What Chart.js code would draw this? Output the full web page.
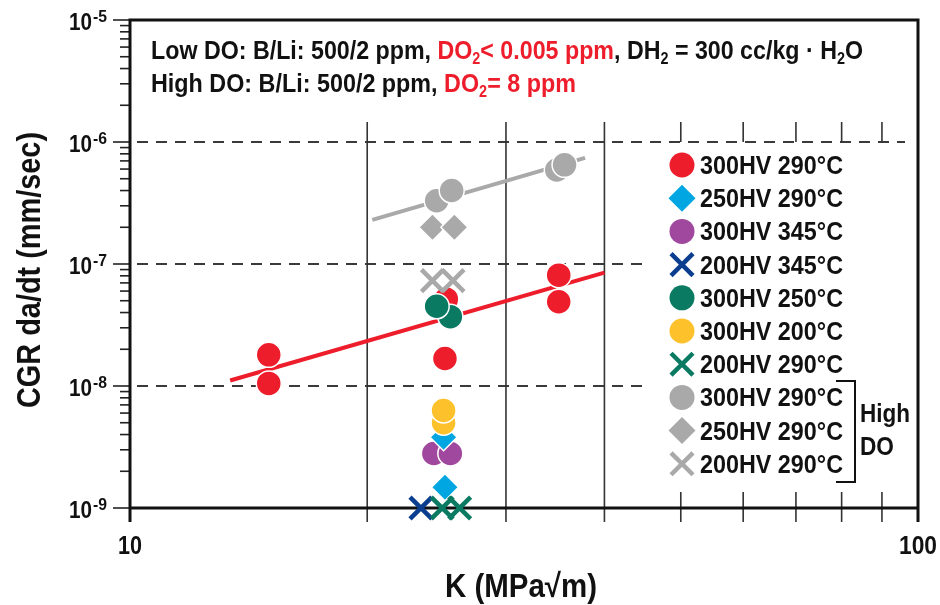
<!DOCTYPE html>
<html>
<head>
<meta charset="utf-8">
<title>CGR vs K</title>
<script src="https://cdn.jsdelivr.net/npm/chart.js@4.4.1/dist/chart.umd.min.js"></script>
<style>
  html, body { margin: 0; padding: 0; background: #fff; }
  #wrap { width: 940px; height: 605px; }
</style>
</head>
<body>
<div id="wrap"><canvas id="cgrChart" width="940" height="605"></canvas></div>
<script>
// ===== AXES =====
const kTicks = [10, 100];
const kTickLabels = ['10', '100'];
const kGrid = [20, 30, 40];
const kMinor = [50, 60, 70, 80, 90];
const cgrTicks = [1e-5, 1e-6, 1e-7, 1e-8, 1e-9];
const cgrTickExp = ['-5', '-6', '-7', '-8', '-9'];

// ===== LOW DO SERIES =====
const red290K   = [25.2, 15.0, 15.0, 25.1, 35.0, 35.0];
const red290CGR = [5.15e-8, 1.8e-8, 1.05e-8, 1.68e-8, 8.1e-8, 4.9e-8];
const dia250K   = [25.0, 25.1];
const dia250CGR = [3.8e-9, 1.48e-9];
const pur345K   = [24.3, 25.5];
const pur345CGR = [2.8e-9, 2.8e-9];
const x200_345K   = [23.4];
const x200_345CGR = [1e-9];
const grn250K   = [25.5, 24.5];
const grn250CGR = [3.7e-8, 4.5e-8];
const yel200K   = [25.0, 25.0];
const yel200CGR = [5.0e-9, 6.3e-9];
const x200_290K   = [24.9, 26.2];
const x200_290CGR = [1e-9, 1e-9];

// ===== HIGH DO SERIES =====
const hiCircK   = [24.5, 25.6, 34.8, 35.6];
const hiCircCGR = [3.3e-7, 4.0e-7, 5.9e-7, 6.5e-7];
const hiDiaK    = [24.2, 25.8];
const hiDiaCGR  = [2.0e-7, 2.0e-7];
const hiXK      = [24.2, 25.7];
const hiXCGR    = [7.3e-8, 7.3e-8];

// ===== FIT LINES =====
const lowFitK   = [13.4, 40.0];
const lowFitCGR = [1.11e-8, 8.5e-8];
const highFitK   = [20.3, 37.8];
const highFitCGR = [2.3e-7, 7.4e-7];

const legendLabels = [
  '300HV 290°C', '250HV 290°C', '300HV 345°C', '200HV 345°C', '300HV 250°C',
  '300HV 200°C', '200HV 290°C', '300HV 290°C', '250HV 290°C', '200HV 290°C'
];

const RED = '#ee1d2b', CYAN = '#00a6e2', PURPLE = '#a0489d', NAVY = '#0b3e8f',
      TEAL = '#0b7a62', YELLOW = '#fdc12b', GRAY = '#a9a9a9';

const FONT = "'Liberation Sans Narrow', 'Liberation Sans', Arial, sans-serif";

function pts(xs, ys) {
  return xs.map((x, i) => ({ x: x, y: ys[i] }));
}

function marker(label, xs, ys, style, color, order, legendIdx) {
  const isCross = style === 'crossRot';
  return {
    type: 'scatter',
    label: label,
    data: pts(xs, ys),
    pointStyle: style,
    pointRadius: style === 'circle' ? 12.5 : style === 'rectRot' ? 13.5 : 15.5,
    backgroundColor: color,
    borderColor: isCross ? color : '#ffffff',
    borderWidth: isCross ? 4.5 : 1.5,
    order: order,
    clip: false,
    legendIdx: legendIdx
  };
}

function fitLine(xs, ys, color) {
  return {
    type: 'line',
    data: pts(xs, ys),
    borderColor: color,
    borderWidth: 4,
    pointRadius: 0,
    showLine: true,
    order: 100,
    clip: false
  };
}

// ===== TEXT HELPER (condensed look via horizontal scale) =====
function richText(ctx, parts, x, y, size, width, align) {
  const items = parts.map(p => {
    const s = (p.sub || p.sup) ? size * 0.62 : size;
    ctx.font = 'bold ' + s + 'px ' + FONT;
    return Object.assign({}, p, { s: s, w: ctx.measureText(p.t).width });
  });
  const total = items.reduce((a, b) => a + b.w, 0);
  const k = width ? width / total : 1;
  let x0 = x;
  if (align === 'center') x0 = x - total * k / 2;
  else if (align === 'right') x0 = x - total * k;
  ctx.save();
  ctx.translate(x0, y);
  ctx.scale(k, 1);
  ctx.textBaseline = 'alphabetic';
  ctx.textAlign = 'left';
  let cx = 0;
  items.forEach(it => {
    ctx.font = 'bold ' + it.s + 'px ' + FONT;
    ctx.fillStyle = it.c || '#111';
    const dy = it.sub ? size * 0.2 : it.sup ? -size * 0.42 : 0;
    ctx.fillText(it.t, cx, dy);
    cx += it.w;
  });
  ctx.restore();
}

// ===== FRAME / GRID PLUGIN =====
const framePlugin = {
  id: 'frame',
  beforeDatasetsDraw(chart) {
    const { ctx, chartArea: a, scales: { x, y } } = chart;
    const gridTop = y.getPixelForValue(1e-6) - 20;
    const below = a.bottom + 14;
    const legendLeft = 645;
    ctx.save();

    // dashed decade lines
    ctx.strokeStyle = '#3a3a3a';
    ctx.lineWidth = 2.2;
    ctx.setLineDash([11, 8]);
    [[1e-6, a.right - 13], [1e-7, legendLeft], [1e-8, legendLeft]].forEach(([v, xEnd]) => {
      const py = Math.round(y.getPixelForValue(v));
      ctx.beginPath();
      ctx.moveTo(a.left + 7, py);
      ctx.lineTo(xEnd, py);
      ctx.stroke();
    });
    ctx.setLineDash([]);

    // vertical grid lines at 20, 30, 40
    ctx.strokeStyle = '#333';
    ctx.lineWidth = 1.6;
    kGrid.forEach(v => {
      const px = x.getPixelForValue(v);
      ctx.beginPath();
      ctx.moveTo(px, gridTop);
      ctx.lineTo(px, below);
      ctx.stroke();
    });

    // minor K ticks (top and bottom)
    kMinor.forEach(v => {
      const px = x.getPixelForValue(v);
      ctx.beginPath();
      ctx.moveTo(px, gridTop);
      ctx.lineTo(px, y.getPixelForValue(1e-6));
      ctx.moveTo(px, a.bottom - 16);
      ctx.lineTo(px, below);
      ctx.stroke();
    });

    // y ticks
    ctx.strokeStyle = '#222';
    ctx.lineWidth = 1.6;
    for (let e = -9; e < -5; e++) {
      for (let m = 2; m <= 9; m++) {
        const py = y.getPixelForValue(m * Math.pow(10, e));
        ctx.beginPath();
        ctx.moveTo(a.left - 10, py);
        ctx.lineTo(a.left, py);
        ctx.stroke();
      }
    }
    cgrTicks.forEach(v => {
      const py = y.getPixelForValue(v);
      ctx.beginPath();
      ctx.moveTo(a.left - 17, py);
      ctx.lineTo(a.left, py);
      ctx.stroke();
    });

    // frame
    ctx.strokeStyle = '#111';
    ctx.lineWidth = 3;
    ctx.beginPath();
    ctx.moveTo(a.left, below);
    ctx.lineTo(a.left, a.top);
    ctx.lineTo(a.right, a.top);
    ctx.lineTo(a.right, below);
    ctx.moveTo(a.left, a.bottom);
    ctx.lineTo(a.right, a.bottom);
    ctx.stroke();
    ctx.restore();
  },

  afterDraw(chart) {
    const { ctx, scales: { x, y } } = chart;
    ctx.save();

    // header notes
    richText(ctx, [
      { t: 'Low DO: B/Li: 500/2 ppm, ' },
      { t: 'DO', c: RED }, { t: '2', c: RED, sub: true }, { t: '< 0.005 ppm', c: RED },
      { t: ', DH' }, { t: '2', sub: true }, { t: ' = 300 cc/kg · H' }, { t: '2', sub: true }, { t: 'O' }
    ], 151, 59, 26, 712, 'left');
    richText(ctx, [
      { t: 'High DO: B/Li: 500/2 ppm, ' },
      { t: 'DO', c: RED }, { t: '2', c: RED, sub: true }, { t: '= 8 ppm', c: RED }
    ], 151, 92, 26, 425, 'left');

    // y tick labels
    cgrTicks.forEach((v, i) => {
      const py = y.getPixelForValue(v);
      richText(ctx, [{ t: '10' }], 92, py + 10, 23, 23, 'right');
      richText(ctx, [{ t: cgrTickExp[i] }], 93, py + 2, 17, 14, 'left');
    });

    // x tick labels
    kTicks.forEach((v, i) => {
      const px = x.getPixelForValue(v);
      richText(ctx, [{ t: kTickLabels[i] }], px, 554, 26, i === 0 ? 24 : 38, 'center');
    });

    // axis titles
    richText(ctx, [{ t: 'K (MPa√m)' }], 521, 597, 33, 152, 'center');
    ctx.save();
    ctx.translate(40, 270);
    ctx.rotate(-Math.PI / 2);
    richText(ctx, [{ t: 'CGR da/dt (mm/sec)' }], 0, 0, 33, 276, 'center');
    ctx.restore();

    // legend
    const rows = chart.data.datasets
      .filter(d => d.legendIdx !== undefined)
      .sort((p, q) => p.legendIdx - q.legendIdx);
    rows.forEach((d, i) => {
      const cy = 165 + i * 33.2;
      ctx.save();
      ctx.fillStyle = d.backgroundColor;
      ctx.strokeStyle = d.borderColor;
      ctx.lineWidth = d.borderWidth;
      const opts = { pointStyle: d.pointStyle, radius: d.pointRadius, rotation: 0, borderWidth: d.pointStyle === 'crossRot' ? d.borderWidth : 0 };
      Chart.helpers.drawPoint(ctx, opts, 682, cy);
      ctx.restore();
      richText(ctx, [{ t: legendLabels[d.legendIdx] }], 700, cy + 9, 25, 143, 'left');
    });

    // High DO bracket
    ctx.strokeStyle = '#111';
    ctx.lineWidth = 2;
    ctx.beginPath();
    ctx.moveTo(836, 381);
    ctx.lineTo(855, 381);
    ctx.lineTo(855, 482);
    ctx.lineTo(836, 482);
    ctx.stroke();
    richText(ctx, [{ t: 'High' }], 860, 422, 25, 50, 'left');
    richText(ctx, [{ t: 'DO' }], 860, 455, 25, 34, 'left');

    ctx.restore();
  }
};

// ===== CHART =====
const ctx = document.getElementById('cgrChart').getContext('2d');

new Chart(ctx, {
  type: 'scatter',
  data: {
    datasets: [
      fitLine(lowFitK, lowFitCGR, RED),
      fitLine(highFitK, highFitCGR, GRAY),
      marker('300HV 290°C', red290K, red290CGR, 'circle', RED, 20, 0),
      marker('300HV 345°C', pur345K, pur345CGR, 'circle', PURPLE, 19, 2),
      marker('250HV 290°C', dia250K, dia250CGR, 'rectRot', CYAN, 18, 1),
      marker('300HV 200°C', yel200K, yel200CGR, 'circle', YELLOW, 17, 5),
      marker('300HV 250°C', grn250K, grn250CGR, 'circle', TEAL, 16, 4),
      marker('200HV 345°C', x200_345K, x200_345CGR, 'crossRot', NAVY, 15, 3),
      marker('200HV 290°C', x200_290K, x200_290CGR, 'crossRot', TEAL, 14, 6),
      marker('300HV 290°C High DO', hiCircK, hiCircCGR, 'circle', GRAY, 13, 7),
      marker('250HV 290°C High DO', hiDiaK, hiDiaCGR, 'rectRot', GRAY, 12, 8),
      marker('200HV 290°C High DO', hiXK, hiXCGR, 'crossRot', GRAY, 11, 9)
    ]
  },
  options: {
    responsive: false,
    animation: false,
    events: [],
    layout: { padding: { left: 130, right: 22, top: 15, bottom: 97 } },
    plugins: {
      legend: { display: false },
      tooltip: { enabled: false }
    },
    scales: {
      x: { type: 'logarithmic', min: 10, max: 100, display: false },
      y: { type: 'logarithmic', min: 1e-9, max: 1e-5, display: false }
    }
  },
  plugins: [framePlugin]
});
</script>
</body>
</html>
